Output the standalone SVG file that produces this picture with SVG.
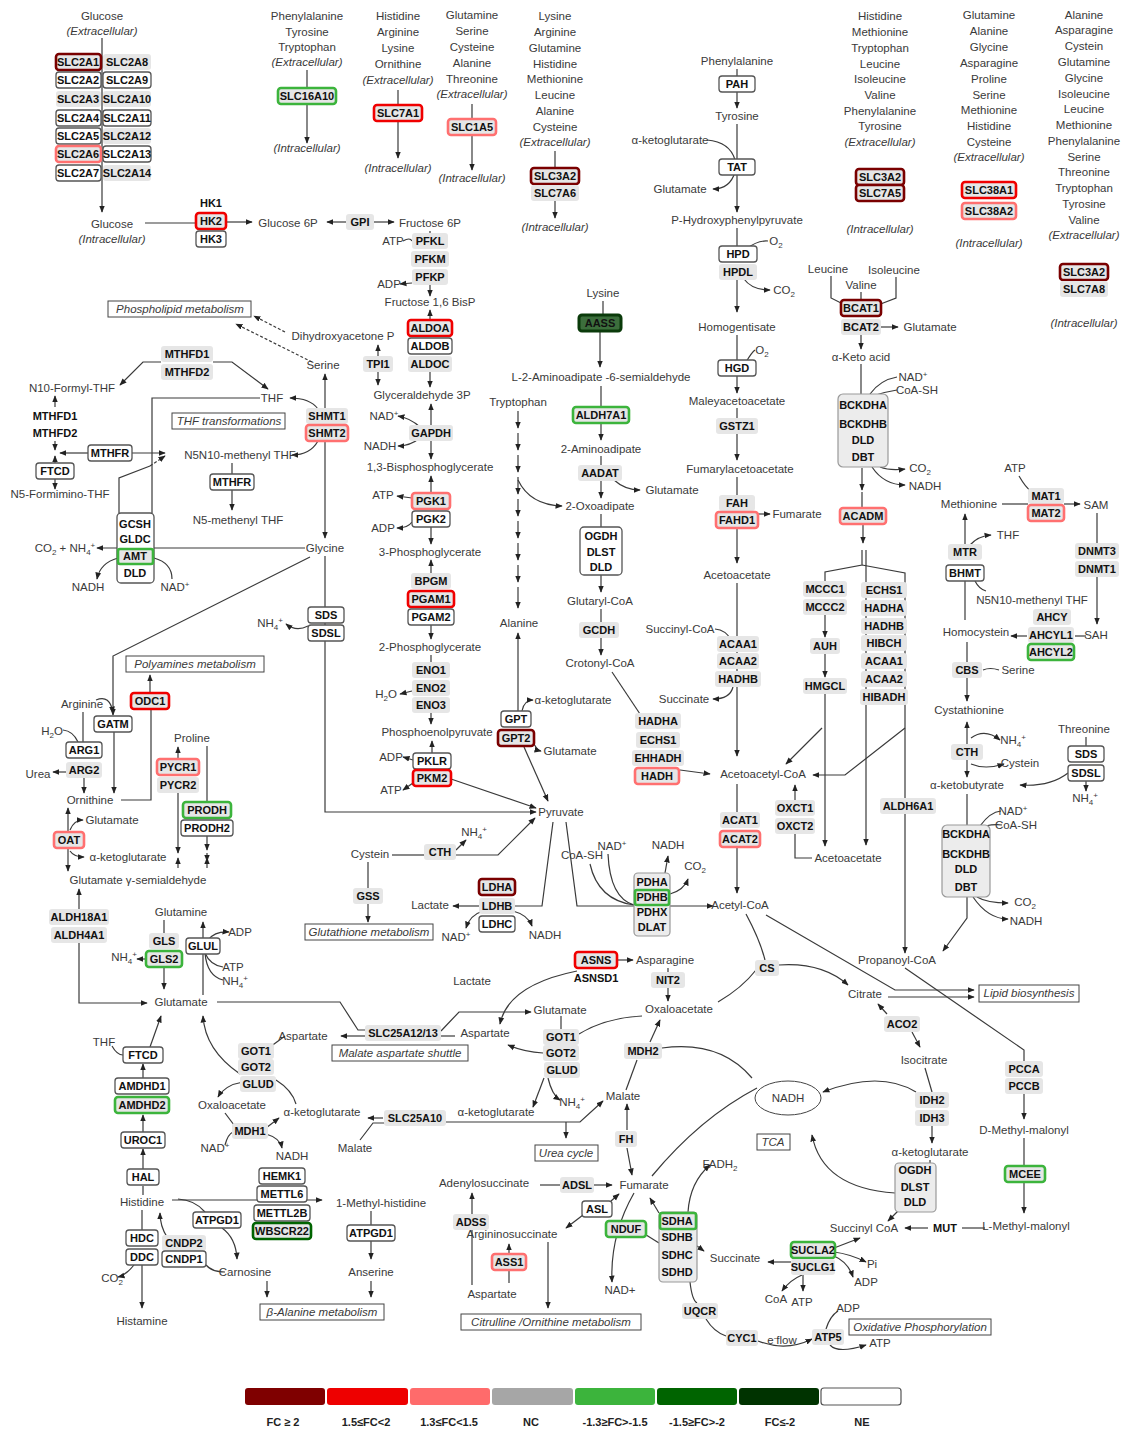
<svg xmlns="http://www.w3.org/2000/svg" width="1123" height="1430" viewBox="0 0 1123 1430">
<defs>
<marker id="ar" viewBox="0 0 10 10" refX="9" refY="5" markerWidth="6" markerHeight="6" orient="auto-start-reverse"><path d="M0,1 L10,5 L0,9z" fill="#222"/></marker>
<style>
.m{font-family:"Liberation Sans",Arial,sans-serif;font-size:11.5px;fill:#3a3a3a;text-anchor:middle}
.i{font-style:italic}
.g{font-family:"Liberation Sans",Arial,sans-serif;font-size:11px;font-weight:bold;fill:#111;text-anchor:middle}
.sb{font-size:8px}
.ne{fill:#fff;stroke:#555;stroke-width:1.3}
.nc{fill:#e6e6e6;stroke:none}
.a{fill:#e6e6e6;stroke:#7a0000;stroke-width:2.6}
.b{fill:#e6e6e6;stroke:#f00000;stroke-width:2.6}
.c{fill:#e6e6e6;stroke:#ff7070;stroke-width:2.6}
.d{fill:#e6e6e6;stroke:#3cb43c;stroke-width:2.6}
.e{fill:#e6e6e6;stroke:#006400;stroke-width:2.6}
.f{fill:#3c6e3c;stroke:#0a3a0a;stroke-width:3}
.cx{fill:#ececec;stroke:#999;stroke-width:1.2}
.bx{fill:#fff;stroke:#444;stroke-width:1}
.l{fill:none;stroke:#3a3a3a;stroke-width:1.2}
.k{marker-end:url(#ar)}
.kk{marker-start:url(#ar);marker-end:url(#ar)}
.ds{stroke-dasharray:3,2}
.lg{font-family:"Liberation Sans",Arial,sans-serif;font-size:11px;font-weight:bold;fill:#222;text-anchor:middle}
</style>
</defs>
<rect width="1123" height="1430" fill="#fff"/>

<g id="connectors">
<path class="l k" d="M102,38 V212"/>
<path class="l" d="M145,223 H196"/><path class="l k" d="M227,222 H252"/>
<path class="l k" d="M346,222 H327"/><path class="l k" d="M374,222 H394"/>
<path class="l k" d="M307,70 V143"/>
<path class="l k" d="M398,90 V158"/>
<path class="l k" d="M472,104 V170"/>
<path class="l k" d="M555,151 V218"/>
<path class="l" d="M737,69 V76"/><path class="l k" d="M737,92 V108"/>
<path class="l k" d="M737,124 V212"/>
<path class="l" d="M707,140 Q730,142 735,160"/><path class="l k" d="M735,172 Q730,189 713,189"/>
<path class="l" d="M737,228 V246"/><path class="l k" d="M737,280 V312"/>
<path class="l" d="M746,249 Q758,240 768,241"/><path class="l k" d="M744,279 Q752,290 770,290"/>
<path class="l" d="M737,335 V360"/><path class="l" d="M746,362 Q752,352 755,350"/>
<path class="l k" d="M737,376 V393"/>
<path class="l" d="M737,408 V418"/><path class="l k" d="M737,434 V460"/>
<path class="l" d="M737,477 V495"/><path class="l k" d="M758,514 H770"/>
<path class="l k" d="M737,528 V563"/>
<path class="l k" d="M737,583 V756"/>
<path class="l" d="M715,629 Q726,630 731,640"/><path class="l k" d="M733,687 Q730,699 713,699"/>
<path class="l" d="M737,784 V812"/><path class="l k" d="M737,848 V893"/>
<path class="l k" d="M680,770 L710,774"/>
<path class="l" d="M612,672 L640,714"/>
<path class="l" d="M603,301 V315"/><path class="l k" d="M600,331 V367"/>
<path class="l" d="M601,386 V407"/><path class="l k" d="M601,423 V440"/>
<path class="l" d="M601,456 V465"/><path class="l k" d="M601,481 V498"/>
<path class="l k" d="M614,480 Q625,490 640,490"/>
<path class="l" d="M601,514 V528"/><path class="l k" d="M601,575 V592"/>
<path class="l" d="M601,609 V622"/><path class="l k" d="M601,638 V655"/>
<path class="l k" d="M518,411 V428"/><path class="l k" d="M518,433 V450"/><path class="l k" d="M518,455 V472"/><path class="l k" d="M518,477 V494"/><path class="l k" d="M518,499 V516"/><path class="l k" d="M518,521 V538"/><path class="l k" d="M518,543 V560"/><path class="l k" d="M518,565 V582"/><path class="l k" d="M518,587 V608"/>
<path class="l k" d="M518,480 Q530,505 562,506"/>
<path class="l k" d="M518,711 V633"/>
<path class="l k" d="M522,711 Q524,700 533,700"/>
<path class="l k" d="M533,741 Q536,750 541,751"/>
<path class="l k" d="M524,747 L548,801"/>
<path class="l" d="M430,231 V234"/><path class="l k" d="M430,285 V296"/>
<path class="l" d="M403,241 Q410,237 412,241"/><path class="l k" d="M412,283 L400,284"/>
<path class="l k" d="M430,320 V310"/>
<path class="l k" d="M430,372 V387"/>
<path class="l k" d="M378,356 V345"/><path class="l k" d="M378,372 V385"/>
<path class="l k" d="M431,425 V404"/><path class="l k" d="M431,441 V459"/>
<path class="l k" d="M420,427 Q410,418 398,416"/><path class="l k" d="M420,438 Q410,446 398,446"/>
<path class="l k" d="M431,493 V476"/><path class="l k" d="M412,498 L397,496"/><path class="l k" d="M412,522 Q408,528 397,528"/><path class="l k" d="M431,527 V544"/>
<path class="l k" d="M431,573 V560"/><path class="l k" d="M431,625 V639"/>
<path class="l" d="M431,655 V662"/><path class="l k" d="M431,713 V724"/><path class="l k" d="M412,691 L400,694"/>
<path class="l k" d="M432,753 V741"/><path class="l k" d="M413,760 L403,757"/><path class="l k" d="M413,783 L403,790"/>
<path class="l k" d="M451,779 L536,808"/>
<path class="l kk" d="M325,538 V374"/>
<path class="l k" d="M325,556 V812 H536"/>
<path class="l" d="M392,855 H424"/><path class="l k" d="M456,855 H498 L535,818"/><path class="l k" d="M456,850 L466,840"/>
<path class="l" d="M368,862 V888"/><path class="l k" d="M368,904 V922"/>
<path class="l" d="M553,822 L542,906 H515"/>
<path class="l k" d="M479,906 H453"/><path class="l k" d="M483,911 Q470,915 466,928"/><path class="l k" d="M513,911 Q528,915 532,926"/>
<path class="l k" d="M566,822 L577,906 H713"/>
<path class="l" d="M590,864 Q598,900 634,905"/><path class="l" d="M608,854 Q610,898 634,905"/>
<path class="l k" d="M665,873 L668,856"/><path class="l k" d="M670,894 Q684,890 688,879"/>
<path class="l k ds" d="M285,332 L254,316"/><path class="l k ds" d="M312,362 L236,324"/>
<path class="l k" d="M161,362 H143 L120,385"/><path class="l k" d="M213,362 H232 L268,389"/>
<path class="l k" d="M55,407 V396"/>
<path class="l k" d="M55,441 V450"/><path class="l k" d="M55,463 V456"/><path class="l k" d="M55,479 V489"/>
<path class="l k" d="M88,453 H60"/><path class="l k" d="M132,453 H165"/>
<path class="l k" d="M318,409 Q310,398 290,398"/><path class="l k" d="M318,441 Q310,455 292,455"/>
<path class="l" d="M232,463 V474"/><path class="l k" d="M232,490 V510"/>
<path class="l" d="M152,513 V398 H260"/>
<path class="l" d="M119,513 V478 L150,466"/><path class="l k ds" d="M150,466 L165,456"/>
<path class="l k" d="M305,548 H97"/>
<path class="l k" d="M118,558 Q100,563 97,579"/><path class="l" d="M154,558 Q172,563 172,579"/>
<path class="l k" d="M308,626 Q296,632 286,624"/>
<path class="l k" d="M310,557 L113,656 V715"/>
<path class="l k" d="M96,700 Q110,694 113,713"/><path class="l" d="M83,712 V742"/>
<path class="l" d="M63,730 Q73,731 78,742"/>
<path class="l k" d="M66,772 H53"/><path class="l k" d="M84,778 V793"/><path class="l k" d="M114,732 V793"/>
<path class="l" d="M121,800 H151 V710"/><path class="l k" d="M150,693 V675"/>
<path class="l k" d="M68,832 V808"/><path class="l k" d="M68,848 V871"/>
<path class="l k" d="M70,830 Q74,820 83,820"/><path class="l k" d="M70,851 Q74,857 84,857"/>
<path class="l" d="M207,746 V802"/><path class="l k" d="M178,759 V747"/>
<path class="l k" d="M178,793 V853"/><path class="l k" d="M178,868 V858"/>
<path class="l k" d="M207,836 V850"/><path class="l k" d="M207,853 V861"/><path class="l k" d="M207,868 V858"/>
<path class="l k" d="M79,909 V889"/><path class="l k" d="M79,943 V1003 H147"/>
<path class="l" d="M164,920 V933"/><path class="l k" d="M150,959 H137"/><path class="l k" d="M164,967 V989"/>
<path class="l k" d="M203,995 V922"/><path class="l k" d="M208,940 Q215,931 229,932"/>
<path class="l" d="M205,953 Q210,965 223,967"/><path class="l" d="M205,953 Q207,976 223,980"/>
<path class="l" d="M217,1002 H340 L358,1030 H366"/>
<path class="l k" d="M366,1036 H341"/>
<path class="l k" d="M441,1031 L459,1012 H531"/><path class="l" d="M441,1036 H455"/>
<path class="l" d="M112,1046 Q117,1055 123,1055"/><path class="l k" d="M150,1047 L161,1016"/>
<path class="l k" d="M143,1078 V1064"/>
<path class="l k" d="M240,1074 Q205,1050 203,1016"/><path class="l" d="M270,1047 L285,1036"/>
<path class="l k" d="M243,1082 Q225,1085 218,1097"/><path class="l" d="M276,1080 Q292,1090 296,1104"/>
<path class="l" d="M225,1113 L234,1125"/><path class="l k" d="M266,1128 L279,1118"/>
<path class="l" d="M225,1145 Q228,1134 233,1132"/><path class="l k" d="M266,1134 Q280,1138 282,1148"/>
<path class="l k" d="M383,1118 H368"/><path class="l" d="M360,1140 L373,1123 H385"/>
<path class="l k" d="M446,1122 H580 L603,1101"/><path class="l k" d="M566,1122 V1138"/>
<path class="l k" d="M143,1132 V1115"/><path class="l k" d="M143,1169 V1149"/><path class="l" d="M143,1195 V1186"/>
<path class="l" d="M142,1210 V1230"/><path class="l k" d="M142,1265 V1308"/><path class="l k" d="M134,1265 Q126,1275 118,1277"/>
<path class="l k" d="M172,1200 H322"/><path class="l" d="M178,1199 Q195,1200 205,1212"/>
<path class="l k" d="M222,1228 Q236,1238 237,1259"/><path class="l" d="M206,1265 Q212,1272 225,1272"/>
<path class="l k" d="M167,1237 Q160,1226 160,1213"/>
<path class="l" d="M371,1211 V1225"/><path class="l k" d="M371,1241 V1259"/><path class="l k" d="M371,1281 V1297"/><path class="l k" d="M267,1281 V1297"/>
<path class="l k" d="M617,960 H633"/><path class="l" d="M668,968 V972"/><path class="l k" d="M668,988 V1001"/>
<path class="l k" d="M577,971 Q508,985 500,1024"/>
<path class="l" d="M561,1016 V1029"/><path class="l" d="M579,1034 Q605,1018 642,1016"/>
<path class="l k" d="M543,1053 Q525,1052 508,1045"/>
<path class="l k" d="M548,1078 Q552,1095 560,1100"/><path class="l k" d="M544,1078 L533,1107"/>
<path class="l" d="M626,1090 L637,1060"/><path class="l k" d="M650,1042 L660,1020"/>
<path class="l" d="M662,1048 Q720,1040 752,1078"/>
<path class="l" d="M718,1002 Q742,988 756,970"/><path class="l k" d="M779,965 Q822,962 848,985"/><path class="l" d="M746,914 Q760,940 765,960"/>
<path class="l k" d="M766,915 L895,990 H974"/><path class="l k" d="M888,997 H974"/>
<path class="l" d="M905,968 L1024,1050 V1062"/>
<path class="l k" d="M1024,1094 V1119"/><path class="l" d="M1024,1138 V1166"/><path class="l k" d="M1024,1182 V1213"/>
<path class="l" d="M985,1228 H962"/><path class="l k" d="M928,1228 H905"/>
<path class="l k" d="M887,1014 L878,1004"/><path class="l k" d="M912,1032 L920,1047"/>
<path class="l" d="M925,1068 L932,1092"/><path class="l k" d="M932,1126 V1143"/>
<path class="l k" d="M916,1092 Q880,1070 823,1092"/>
<path class="l k" d="M895,1193 Q822,1188 812,1135"/>
<path class="l" d="M930,1160 V1163"/><path class="l k" d="M898,1211 L888,1221"/>
<path class="l k" d="M834,1248 L860,1238"/><path class="l k" d="M834,1252 Q850,1254 866,1262"/><path class="l k" d="M834,1256 Q848,1262 853,1277"/>
<path class="l k" d="M791,1262 H768"/><path class="l k" d="M802,1275 Q790,1280 782,1291"/><path class="l k" d="M803,1275 V1291"/>
<path class="l k" d="M627,1130 V1104"/><path class="l k" d="M627,1148 L632,1175"/>
<path class="l" d="M652,1176 Q700,1118 757,1088"/>
<path class="l" d="M540,1185 H560"/><path class="l k" d="M594,1185 H612"/>
<path class="l k" d="M583,1215 L566,1228"/><path class="l k" d="M611,1201 L619,1194"/>
<path class="l k" d="M472,1285 V1193"/>
<path class="l" d="M509,1283 V1270"/><path class="l k" d="M509,1254 V1244"/>
<path class="l k" d="M548,1242 V1308"/>
<path class="l k" d="M634,1193 Q610,1235 612,1282"/><path class="l" d="M643,1233 L659,1243"/>
<path class="l k" d="M659,1213 L650,1198"/><path class="l k" d="M688,1212 Q690,1182 710,1165"/><path class="l k" d="M697,1246 L704,1251"/>
<path class="l" d="M690,1282 Q692,1300 697,1303"/><path class="l" d="M706,1319 Q714,1332 726,1336"/>
<path class="l k" d="M758,1341 Q786,1352 812,1339"/><path class="l" d="M826,1329 Q830,1316 838,1311"/><path class="l k" d="M830,1345 Q838,1354 866,1345"/>
<path class="l" d="M831,276 V298 L845,305"/><path class="l" d="M896,277 V298 L878,305"/><path class="l" d="M861,292 V300"/>
<path class="l k" d="M881,327 H898"/><path class="l k" d="M861,335 V349"/>
<path class="l" d="M861,364 V394"/><path class="l" d="M870,394 Q880,380 897,377"/><path class="l" d="M876,395 Q885,392 897,390"/>
<path class="l k" d="M880,467 Q890,471 905,469"/><path class="l k" d="M872,467 Q884,485 905,485"/>
<path class="l k" d="M862,468 V490"/><path class="l" d="M862,492 V508"/>
<path class="l k" d="M863,524 V543"/>
<path class="l" d="M862,550 V565 L825,572 V581"/>
<path class="l k" d="M862,565 L905,573 V953"/>
<path class="l k" d="M866,550 V845"/>
<path class="l k" d="M825,615 V637"/><path class="l k" d="M825,654 V677"/><path class="l k" d="M825,694 V846"/>
<path class="l k" d="M822,728 L786,764"/><path class="l k" d="M905,728 L845,775 H813"/>
<path class="l" d="M812,858 H795 V834"/><path class="l k" d="M795,800 V785"/>
<path class="l" d="M1002,504 H1028"/><path class="l k" d="M1064,504 H1080"/><path class="l" d="M1019,476 Q1026,488 1031,491"/>
<path class="l" d="M1097,513 V543"/><path class="l k" d="M1097,577 V624"/>
<path class="l" d="M1086,636 H1075"/><path class="l k" d="M1027,636 H1011"/>
<path class="l" d="M965,620 V581"/><path class="l k" d="M965,544 V514"/>
<path class="l k" d="M970,545 Q978,536 991,535"/><path class="l" d="M975,581 Q979,589 986,591"/>
<path class="l" d="M967,642 V662"/><path class="l k" d="M967,678 V701"/><path class="l" d="M999,670 Q990,667 983,670"/>
<path class="l k" d="M967,744 V722"/><path class="l k" d="M967,760 V777"/>
<path class="l k" d="M971,738 Q985,728 1000,740"/><path class="l k" d="M971,764 Q985,770 1004,764"/>
<path class="l" d="M1086,737 V746"/><path class="l k" d="M1086,781 V791"/><path class="l k" d="M1068,773 Q1050,787 1020,785"/>
<path class="l" d="M967,794 V825"/><path class="l" d="M980,826 Q990,812 1001,811"/><path class="l" d="M985,826 Q995,824 1002,825"/>
<path class="l k" d="M977,897 Q987,903 1008,903"/><path class="l k" d="M973,897 Q988,919 1008,919"/>
<path class="l k" d="M967,897 V918 L943,951"/>
</g>

<g id="n-slc2">
<rect class="a" x="56" y="54" width="45" height="16" rx="3"/><text class="g" x="78" y="66">SLC2A1</text>
<rect class="ne" x="56" y="72" width="45" height="16" rx="3"/><text class="g" x="78" y="84">SLC2A2</text>
<rect class="nc" x="56" y="91" width="45" height="16" rx="3"/><text class="g" x="78" y="103">SLC2A3</text>
<rect class="ne" x="56" y="110" width="45" height="16" rx="3"/><text class="g" x="78" y="122">SLC2A4</text>
<rect class="ne" x="56" y="128" width="45" height="16" rx="3"/><text class="g" x="78" y="140">SLC2A5</text>
<rect class="c" x="56" y="146" width="45" height="16" rx="3"/><text class="g" x="78" y="158">SLC2A6</text>
<rect class="ne" x="56" y="165" width="45" height="16" rx="3"/><text class="g" x="78" y="177">SLC2A7</text>
<rect class="nc" x="103" y="54" width="48" height="16" rx="3"/><text class="g" x="127" y="66">SLC2A8</text>
<rect class="ne" x="103" y="72" width="48" height="16" rx="3"/><text class="g" x="127" y="84">SLC2A9</text>
<rect class="nc" x="103" y="91" width="48" height="16" rx="3"/><text class="g" x="127" y="103">SLC2A10</text>
<rect class="ne" x="103" y="110" width="48" height="16" rx="3"/><text class="g" x="127" y="122">SLC2A11</text>
<rect class="nc" x="103" y="128" width="48" height="16" rx="3"/><text class="g" x="127" y="140">SLC2A12</text>
<rect class="ne" x="103" y="146" width="48" height="16" rx="3"/><text class="g" x="127" y="158">SLC2A13</text>
<rect class="nc" x="103" y="165" width="48" height="16" rx="3"/><text class="g" x="127" y="177">SLC2A14</text>
</g>
<g id="n-hk"><text class="g" x="211" y="207">HK1</text>
<rect class="b" x="196" y="213" width="30" height="16" rx="3"/><text class="g" x="211" y="225">HK2</text>
<rect class="ne" x="196" y="231" width="30" height="16" rx="3"/><text class="g" x="211" y="243">HK3</text></g>
<g id="n-gpi"><rect class="nc" x="346" y="214" width="28" height="16" rx="3"/><text class="g" x="360" y="226">GPI</text></g>
<g id="n-slc16a10"><rect class="d" x="278" y="88" width="58" height="16" rx="3"/><text class="g" x="307" y="100">SLC16A10</text></g>
<g id="n-slc7a1"><rect class="b" x="374" y="105" width="48" height="16" rx="3"/><text class="g" x="398" y="117">SLC7A1</text></g>
<g id="n-slc1a5"><rect class="c" x="448" y="119" width="48" height="16" rx="3"/><text class="g" x="472" y="131">SLC1A5</text></g>
<g id="n-slc3a2-7a6"><rect class="a" x="531" y="168" width="48" height="16" rx="3"/><text class="g" x="555" y="180">SLC3A2</text>
<rect class="nc" x="531" y="185" width="48" height="16" rx="3"/><text class="g" x="555" y="197">SLC7A6</text></g>
<g id="n-pah"><rect class="ne" x="719" y="76" width="36" height="16" rx="3"/><text class="g" x="737" y="88">PAH</text></g>
<g id="n-tat"><rect class="ne" x="719" y="159" width="36" height="16" rx="3"/><text class="g" x="737" y="171">TAT</text></g>
<g id="n-hpd"><rect class="ne" x="719" y="246" width="38" height="16" rx="3"/><text class="g" x="738" y="258">HPD</text>
<rect class="nc" x="719" y="264" width="38" height="16" rx="3"/><text class="g" x="738" y="276">HPDL</text></g>
<g id="n-hgd"><rect class="ne" x="718" y="360" width="38" height="16" rx="3"/><text class="g" x="737" y="372">HGD</text></g>
<g id="n-gstz1"><rect class="nc" x="716" y="418" width="42" height="16" rx="3"/><text class="g" x="737" y="430">GSTZ1</text></g>
<g id="n-fah"><rect class="nc" x="719" y="495" width="36" height="16" rx="3"/><text class="g" x="737" y="507">FAH</text>
<rect class="c" x="716" y="512" width="42" height="16" rx="3"/><text class="g" x="737" y="524">FAHD1</text></g>
<g id="n-slc3a2-7a5"><rect class="a" x="856" y="169" width="48" height="16" rx="3"/><text class="g" x="880" y="181">SLC3A2</text>
<rect class="a" x="856" y="185" width="48" height="16" rx="3"/><text class="g" x="880" y="197">SLC7A5</text></g>
<g id="n-slc38"><rect class="b" x="962" y="182" width="54" height="16" rx="3"/><text class="g" x="989" y="194">SLC38A1</text>
<rect class="c" x="962" y="203" width="54" height="16" rx="3"/><text class="g" x="989" y="215">SLC38A2</text></g>
<g id="n-slc3a2-7a8"><rect class="a" x="1060" y="264" width="48" height="16" rx="3"/><text class="g" x="1084" y="276">SLC3A2</text>
<rect class="nc" x="1060" y="281" width="48" height="16" rx="3"/><text class="g" x="1084" y="293">SLC7A8</text></g>
<g id="n-bcat"><rect class="a" x="841" y="300" width="40" height="16" rx="3"/><text class="g" x="861" y="312">BCAT1</text>
<rect class="nc" x="841" y="319" width="40" height="16" rx="3"/><text class="g" x="861" y="331">BCAT2</text></g>
<g id="n-pfk"><rect class="nc" x="412" y="233" width="36" height="16" rx="3"/><text class="g" x="430" y="245">PFKL</text>
<rect class="nc" x="411" y="251" width="38" height="16" rx="3"/><text class="g" x="430" y="263">PFKM</text>
<rect class="nc" x="412" y="269" width="36" height="16" rx="3"/><text class="g" x="430" y="281">PFKP</text></g>
<g id="n-aldo"><rect class="b" x="408" y="320" width="44" height="16" rx="3"/><text class="g" x="430" y="332">ALDOA</text>
<rect class="ne" x="408" y="338" width="44" height="16" rx="3"/><text class="g" x="430" y="350">ALDOB</text>
<rect class="nc" x="408" y="356" width="44" height="16" rx="3"/><text class="g" x="430" y="368">ALDOC</text></g>
<g id="n-tpi1"><rect class="nc" x="363" y="356" width="30" height="16" rx="3"/><text class="g" x="378" y="368">TPI1</text></g>
<g id="n-aass"><rect class="f" x="579" y="315" width="42" height="16" rx="3"/><text class="g" x="600" y="327">AASS</text></g>
<g id="n-mthfd-a"><rect class="nc" x="161" y="346" width="52" height="16" rx="3"/><text class="g" x="187" y="358">MTHFD1</text>
<rect class="nc" x="161" y="364" width="52" height="16" rx="3"/><text class="g" x="187" y="376">MTHFD2</text></g>
<g id="n-mthfd-b"><text class="g" x="55" y="420">MTHFD1</text><text class="g" x="55" y="437">MTHFD2</text></g>
<g id="n-ftcd1"><rect class="ne" x="36" y="463" width="38" height="16" rx="3"/><text class="g" x="55" y="475">FTCD</text></g>
<g id="n-mthfr1"><rect class="ne" x="88" y="445" width="44" height="16" rx="3"/><text class="g" x="110" y="457">MTHFR</text></g>
<g id="n-shmt"><rect class="nc" x="306" y="408" width="42" height="16" rx="3"/><text class="g" x="327" y="420">SHMT1</text>
<rect class="c" x="306" y="425" width="42" height="16" rx="3"/><text class="g" x="327" y="437">SHMT2</text></g>
<g id="n-mthfr2"><rect class="ne" x="210" y="474" width="44" height="16" rx="3"/><text class="g" x="232" y="486">MTHFR</text></g>
<g id="n-gcs"><rect class="ne" x="117" y="513" width="37" height="70" rx="4"/>
<text class="g" x="135" y="528">GCSH</text><text class="g" x="135" y="543">GLDC</text>
<rect class="d" x="118" y="549" width="35" height="15" rx="2"/><text class="g" x="135" y="560">AMT</text>
<text class="g" x="135" y="577">DLD</text></g>
<g id="n-sds1"><rect class="ne" x="308" y="607" width="36" height="16" rx="3"/><text class="g" x="326" y="619">SDS</text>
<rect class="ne" x="308" y="625" width="36" height="16" rx="3"/><text class="g" x="326" y="637">SDSL</text></g>
<g id="n-odc1"><rect class="b" x="131" y="693" width="38" height="16" rx="3"/><text class="g" x="150" y="705">ODC1</text></g>
<g id="n-gatm"><rect class="ne" x="94" y="716" width="38" height="16" rx="3"/><text class="g" x="113" y="728">GATM</text></g>
<g id="n-arg"><rect class="ne" x="66" y="742" width="36" height="16" rx="3"/><text class="g" x="84" y="754">ARG1</text>
<rect class="nc" x="66" y="762" width="36" height="16" rx="3"/><text class="g" x="84" y="774">ARG2</text></g>
<g id="n-pycr"><rect class="c" x="157" y="759" width="42" height="16" rx="3"/><text class="g" x="178" y="771">PYCR1</text>
<rect class="nc" x="157" y="777" width="42" height="16" rx="3"/><text class="g" x="178" y="789">PYCR2</text></g>
<g id="n-prodh"><rect class="d" x="183" y="802" width="48" height="16" rx="3"/><text class="g" x="207" y="814">PRODH</text>
<rect class="ne" x="181" y="820" width="52" height="16" rx="3"/><text class="g" x="207" y="832">PRODH2</text></g>
<g id="n-oat"><rect class="c" x="54" y="832" width="30" height="16" rx="3"/><text class="g" x="69" y="844">OAT</text></g>
<g id="n-aldh18"><rect class="nc" x="49" y="909" width="60" height="16" rx="3"/><text class="g" x="79" y="921">ALDH18A1</text>
<rect class="nc" x="51" y="927" width="56" height="16" rx="3"/><text class="g" x="79" y="939">ALDH4A1</text></g>
<g id="n-gls"><rect class="nc" x="149" y="933" width="30" height="16" rx="3"/><text class="g" x="164" y="945">GLS</text>
<rect class="d" x="146" y="951" width="36" height="16" rx="3"/><text class="g" x="164" y="963">GLS2</text></g>
<g id="n-glul"><rect class="ne" x="186" y="938" width="34" height="16" rx="3"/><text class="g" x="203" y="950">GLUL</text></g>
<g id="n-ftcd2"><rect class="ne" x="123" y="1047" width="40" height="16" rx="3"/><text class="g" x="143" y="1059">FTCD</text></g>
<g id="n-amdhd"><rect class="ne" x="115" y="1078" width="54" height="16" rx="3"/><text class="g" x="142" y="1090">AMDHD1</text>
<rect class="d" x="115" y="1097" width="54" height="16" rx="3"/><text class="g" x="142" y="1109">AMDHD2</text></g>
<g id="n-uroc1"><rect class="ne" x="121" y="1132" width="44" height="16" rx="3"/><text class="g" x="143" y="1144">UROC1</text></g>
<g id="n-hal"><rect class="ne" x="127" y="1169" width="32" height="16" rx="3"/><text class="g" x="143" y="1181">HAL</text></g>
<g id="n-hdc"><rect class="ne" x="126" y="1230" width="32" height="16" rx="3"/><text class="g" x="142" y="1242">HDC</text>
<rect class="ne" x="126" y="1249" width="32" height="16" rx="3"/><text class="g" x="142" y="1261">DDC</text></g>
<g id="n-atpgd1a"><rect class="ne" x="193" y="1212" width="48" height="16" rx="3"/><text class="g" x="217" y="1224">ATPGD1</text></g>
<g id="n-cndp"><rect class="nc" x="162" y="1235" width="44" height="16" rx="3"/><text class="g" x="184" y="1247">CNDP2</text>
<rect class="ne" x="162" y="1251" width="44" height="16" rx="3"/><text class="g" x="184" y="1263">CNDP1</text></g>
<g id="n-got-a"><rect class="nc" x="238" y="1043" width="36" height="16" rx="3"/><text class="g" x="256" y="1055">GOT1</text>
<rect class="nc" x="238" y="1059" width="36" height="16" rx="3"/><text class="g" x="256" y="1071">GOT2</text>
<rect class="nc" x="240" y="1076" width="36" height="16" rx="3"/><text class="g" x="258" y="1088">GLUD</text></g>
<g id="n-mdh1"><rect class="nc" x="232" y="1123" width="36" height="16" rx="3"/><text class="g" x="250" y="1135">MDH1</text></g>
<g id="n-mettl"><rect class="ne" x="259" y="1168" width="46" height="16" rx="3"/><text class="g" x="282" y="1180">HEMK1</text>
<rect class="ne" x="257" y="1186" width="50" height="16" rx="3"/><text class="g" x="282" y="1198">METTL6</text>
<rect class="ne" x="254" y="1205" width="56" height="16" rx="3"/><text class="g" x="282" y="1217">METTL2B</text>
<rect class="e" x="253" y="1223" width="58" height="16" rx="3"/><text class="g" x="282" y="1235">WBSCR22</text></g>
<g id="n-atpgd1b"><rect class="ne" x="347" y="1225" width="48" height="16" rx="3"/><text class="g" x="371" y="1237">ATPGD1</text></g>
<g id="n-slc25a12"><rect class="nc" x="365" y="1025" width="76" height="16" rx="3"/><text class="g" x="403" y="1037">SLC25A12/13</text></g>
<g id="n-slc25a10"><rect class="nc" x="384" y="1110" width="62" height="16" rx="3"/><text class="g" x="415" y="1122">SLC25A10</text></g>
<g id="n-gapdh"><rect class="nc" x="409" y="425" width="44" height="16" rx="3"/><text class="g" x="431" y="437">GAPDH</text></g>
<g id="n-pgk"><rect class="c" x="412" y="493" width="38" height="16" rx="3"/><text class="g" x="431" y="505">PGK1</text>
<rect class="ne" x="412" y="511" width="38" height="16" rx="3"/><text class="g" x="431" y="523">PGK2</text></g>
<g id="n-pgam"><rect class="nc" x="411" y="573" width="40" height="16" rx="3"/><text class="g" x="431" y="585">BPGM</text>
<rect class="b" x="408" y="591" width="46" height="16" rx="3"/><text class="g" x="431" y="603">PGAM1</text>
<rect class="ne" x="408" y="609" width="46" height="16" rx="3"/><text class="g" x="431" y="621">PGAM2</text></g>
<g id="n-eno"><rect class="nc" x="412" y="662" width="38" height="16" rx="3"/><text class="g" x="431" y="674">ENO1</text>
<rect class="nc" x="412" y="680" width="38" height="16" rx="3"/><text class="g" x="431" y="692">ENO2</text>
<rect class="nc" x="412" y="697" width="38" height="16" rx="3"/><text class="g" x="431" y="709">ENO3</text></g>
<g id="n-pk"><rect class="ne" x="413" y="753" width="38" height="16" rx="3"/><text class="g" x="432" y="765">PKLR</text>
<rect class="b" x="413" y="770" width="38" height="16" rx="3"/><text class="g" x="432" y="782">PKM2</text></g>
<g id="n-gpt"><rect class="ne" x="501" y="711" width="30" height="16" rx="3"/><text class="g" x="516" y="723">GPT</text>
<rect class="a" x="498" y="730" width="36" height="16" rx="3"/><text class="g" x="516" y="742">GPT2</text></g>
<g id="n-cth1"><rect class="nc" x="424" y="844" width="32" height="16" rx="3"/><text class="g" x="440" y="856">CTH</text></g>
<g id="n-gss"><rect class="nc" x="353" y="888" width="30" height="16" rx="3"/><text class="g" x="368" y="900">GSS</text></g>
<g id="n-ldh"><rect class="a" x="479" y="879" width="36" height="16" rx="3"/><text class="g" x="497" y="891">LDHA</text>
<rect class="nc" x="479" y="898" width="36" height="16" rx="3"/><text class="g" x="497" y="910">LDHB</text>
<rect class="ne" x="479" y="916" width="36" height="16" rx="3"/><text class="g" x="497" y="928">LDHC</text></g>
<g id="n-pdh"><rect class="cx" x="634" y="873" width="36" height="63" rx="4"/>
<text class="g" x="652" y="886">PDHA</text>
<rect class="d" x="635" y="890" width="34" height="15" rx="2"/><text class="g" x="652" y="901">PDHB</text>
<text class="g" x="652" y="916">PDHX</text><text class="g" x="652" y="931">DLAT</text></g>
<g id="n-asns"><rect class="b" x="575" y="952" width="42" height="16" rx="3"/><text class="g" x="596" y="964">ASNS</text>
<text class="g" x="596" y="982">ASNSD1</text></g>
<g id="n-nit2"><rect class="nc" x="651" y="972" width="34" height="16" rx="3"/><text class="g" x="668" y="984">NIT2</text></g>
<g id="n-got-b"><rect class="nc" x="543" y="1029" width="36" height="16" rx="3"/><text class="g" x="561" y="1041">GOT1</text>
<rect class="nc" x="543" y="1045" width="36" height="16" rx="3"/><text class="g" x="561" y="1057">GOT2</text>
<rect class="nc" x="544" y="1062" width="36" height="16" rx="3"/><text class="g" x="562" y="1074">GLUD</text></g>
<g id="n-mdh2"><rect class="nc" x="624" y="1043" width="38" height="16" rx="3"/><text class="g" x="643" y="1055">MDH2</text></g>
<g id="n-aldh7a1"><rect class="d" x="573" y="407" width="56" height="16" rx="3"/><text class="g" x="601" y="419">ALDH7A1</text></g>
<g id="n-aadat"><rect class="nc" x="578" y="465" width="44" height="16" rx="3"/><text class="g" x="600" y="477">AADAT</text></g>
<g id="n-ogdh1"><rect class="ne" x="580" y="527" width="42" height="48" rx="4"/>
<text class="g" x="601" y="540">OGDH</text><text class="g" x="601" y="556">DLST</text><text class="g" x="601" y="571">DLD</text></g>
<g id="n-gcdh"><rect class="nc" x="579" y="622" width="40" height="16" rx="3"/><text class="g" x="599" y="634">GCDH</text></g>
<g id="n-acaa-a"><rect class="nc" x="717" y="636" width="42" height="16" rx="3"/><text class="g" x="738" y="648">ACAA1</text>
<rect class="nc" x="717" y="653" width="42" height="16" rx="3"/><text class="g" x="738" y="665">ACAA2</text>
<rect class="nc" x="715" y="671" width="46" height="16" rx="3"/><text class="g" x="738" y="683">HADHB</text></g>
<g id="n-hadh"><rect class="nc" x="635" y="713" width="46" height="16" rx="3"/><text class="g" x="658" y="725">HADHA</text>
<rect class="nc" x="636" y="732" width="44" height="16" rx="3"/><text class="g" x="658" y="744">ECHS1</text>
<rect class="nc" x="632" y="750" width="52" height="16" rx="3"/><text class="g" x="658" y="762">EHHADH</text>
<rect class="c" x="635" y="768" width="44" height="16" rx="3"/><text class="g" x="657" y="780">HADH</text></g>
<g id="n-acat"><rect class="nc" x="720" y="812" width="40" height="16" rx="3"/><text class="g" x="740" y="824">ACAT1</text>
<rect class="c" x="720" y="831" width="40" height="16" rx="3"/><text class="g" x="740" y="843">ACAT2</text></g>
<g id="n-bckdh1"><rect class="cx" x="838" y="394" width="50" height="73" rx="5"/>
<text class="g" x="863" y="409">BCKDHA</text><text class="g" x="863" y="428">BCKDHB</text><text class="g" x="863" y="444">DLD</text><text class="g" x="863" y="461">DBT</text></g>
<g id="n-acadm"><rect class="c" x="840" y="508" width="46" height="16" rx="3"/><text class="g" x="863" y="520">ACADM</text></g>
<g id="n-mccc"><rect class="nc" x="803" y="581" width="44" height="16" rx="3"/><text class="g" x="825" y="593">MCCC1</text>
<rect class="nc" x="803" y="599" width="44" height="16" rx="3"/><text class="g" x="825" y="611">MCCC2</text></g>
<g id="n-auh"><rect class="nc" x="810" y="638" width="30" height="16" rx="3"/><text class="g" x="825" y="650">AUH</text></g>
<g id="n-hmgcl"><rect class="nc" x="803" y="678" width="44" height="16" rx="3"/><text class="g" x="825" y="690">HMGCL</text></g>
<g id="n-echs"><rect class="nc" x="861" y="582" width="46" height="16" rx="3"/><text class="g" x="884" y="594">ECHS1</text>
<rect class="nc" x="861" y="600" width="46" height="16" rx="3"/><text class="g" x="884" y="612">HADHA</text>
<rect class="nc" x="861" y="618" width="46" height="16" rx="3"/><text class="g" x="884" y="630">HADHB</text>
<rect class="nc" x="861" y="635" width="46" height="16" rx="3"/><text class="g" x="884" y="647">HIBCH</text>
<rect class="nc" x="861" y="653" width="46" height="16" rx="3"/><text class="g" x="884" y="665">ACAA1</text>
<rect class="nc" x="861" y="671" width="46" height="16" rx="3"/><text class="g" x="884" y="683">ACAA2</text>
<rect class="nc" x="860" y="689" width="48" height="16" rx="3"/><text class="g" x="884" y="701">HIBADH</text></g>
<g id="n-mat"><rect class="nc" x="1028" y="488" width="36" height="16" rx="3"/><text class="g" x="1046" y="500">MAT1</text>
<rect class="c" x="1028" y="505" width="36" height="16" rx="3"/><text class="g" x="1046" y="517">MAT2</text></g>
<g id="n-dnmt"><rect class="nc" x="1075" y="543" width="44" height="16" rx="3"/><text class="g" x="1097" y="555">DNMT3</text>
<rect class="nc" x="1075" y="561" width="44" height="16" rx="3"/><text class="g" x="1097" y="573">DNMT1</text></g>
<g id="n-mtr"><rect class="nc" x="948" y="544" width="34" height="16" rx="3"/><text class="g" x="965" y="556">MTR</text>
<rect class="ne" x="946" y="565" width="38" height="16" rx="3"/><text class="g" x="965" y="577">BHMT</text></g>
<g id="n-ahcy"><rect class="nc" x="1033" y="609" width="38" height="16" rx="3"/><text class="g" x="1052" y="621">AHCY</text>
<rect class="nc" x="1028" y="627" width="46" height="16" rx="3"/><text class="g" x="1051" y="639">AHCYL1</text>
<rect class="d" x="1028" y="644" width="46" height="16" rx="3"/><text class="g" x="1051" y="656">AHCYL2</text></g>
<g id="n-cbs"><rect class="nc" x="952" y="662" width="30" height="16" rx="3"/><text class="g" x="967" y="674">CBS</text></g>
<g id="n-cth2"><rect class="nc" x="951" y="744" width="32" height="16" rx="3"/><text class="g" x="967" y="756">CTH</text></g>
<g id="n-sds2"><rect class="ne" x="1068" y="746" width="36" height="16" rx="3"/><text class="g" x="1086" y="758">SDS</text>
<rect class="ne" x="1068" y="765" width="36" height="16" rx="3"/><text class="g" x="1086" y="777">SDSL</text></g>
<g id="n-bckdh2"><rect class="cx" x="942" y="825" width="48" height="72" rx="5"/>
<text class="g" x="966" y="838">BCKDHA</text><text class="g" x="966" y="858">BCKDHB</text><text class="g" x="966" y="873">DLD</text><text class="g" x="966" y="891">DBT</text></g>
<g id="n-aldh6a1"><rect class="nc" x="880" y="798" width="56" height="16" rx="3"/><text class="g" x="908" y="810">ALDH6A1</text></g>
<g id="n-oxct"><rect class="nc" x="775" y="800" width="40" height="16" rx="3"/><text class="g" x="795" y="812">OXCT1</text>
<rect class="nc" x="775" y="818" width="40" height="16" rx="3"/><text class="g" x="795" y="830">OXCT2</text></g>
<g id="n-cs"><rect class="nc" x="755" y="960" width="24" height="16" rx="3"/><text class="g" x="767" y="972">CS</text></g>
<g id="n-aco2"><rect class="nc" x="884" y="1016" width="36" height="16" rx="3"/><text class="g" x="902" y="1028">ACO2</text></g>
<g id="n-pcc"><rect class="nc" x="1005" y="1061" width="38" height="16" rx="3"/><text class="g" x="1024" y="1073">PCCA</text>
<rect class="nc" x="1005" y="1078" width="38" height="16" rx="3"/><text class="g" x="1024" y="1090">PCCB</text></g>
<g id="n-mcee"><rect class="d" x="1005" y="1166" width="40" height="16" rx="3"/><text class="g" x="1025" y="1178">MCEE</text></g>
<g id="n-mut"><text class="g" x="945" y="1232">MUT</text></g>
<g id="n-idh"><rect class="nc" x="915" y="1092" width="34" height="16" rx="3"/><text class="g" x="932" y="1104">IDH2</text>
<rect class="nc" x="915" y="1110" width="34" height="16" rx="3"/><text class="g" x="932" y="1122">IDH3</text></g>
<g id="n-ogdh2"><rect class="cx" x="895" y="1163" width="41" height="49" rx="4"/>
<text class="g" x="915" y="1174">OGDH</text><text class="g" x="915" y="1191">DLST</text><text class="g" x="915" y="1206">DLD</text></g>
<g id="n-sucl"><rect class="d" x="791" y="1242" width="44" height="16" rx="3"/><text class="g" x="813" y="1254">SUCLA2</text>
<rect class="nc" x="791" y="1259" width="44" height="16" rx="3"/><text class="g" x="813" y="1271">SUCLG1</text></g>
<g id="n-atp5"><rect class="nc" x="812" y="1329" width="32" height="16" rx="3"/><text class="g" x="828" y="1341">ATP5</text></g>
<g id="n-cyc1"><rect class="nc" x="726" y="1330" width="32" height="16" rx="3"/><text class="g" x="742" y="1342">CYC1</text></g>
<g id="n-uqcr"><rect class="nc" x="682" y="1303" width="36" height="16" rx="3"/><text class="g" x="700" y="1315">UQCR</text></g>
<g id="n-sdh"><rect class="cx" x="659" y="1212" width="38" height="70" rx="4"/>
<rect class="d" x="660" y="1213" width="36" height="16" rx="2"/><text class="g" x="677" y="1225">SDHA</text>
<text class="g" x="677" y="1241">SDHB</text><text class="g" x="677" y="1259">SDHC</text><text class="g" x="677" y="1276">SDHD</text></g>
<g id="n-nduf"><rect class="d" x="606" y="1221" width="40" height="16" rx="3"/><text class="g" x="626" y="1233">NDUF</text></g>
<g id="n-fh"><rect class="nc" x="615" y="1131" width="22" height="16" rx="3"/><text class="g" x="626" y="1143">FH</text></g>
<g id="n-adsl"><rect class="nc" x="560" y="1177" width="34" height="16" rx="3"/><text class="g" x="577" y="1189">ADSL</text></g>
<g id="n-asl"><rect class="ne" x="582" y="1201" width="30" height="16" rx="3"/><text class="g" x="597" y="1213">ASL</text></g>
<g id="n-adss"><rect class="nc" x="453" y="1214" width="36" height="16" rx="3"/><text class="g" x="471" y="1226">ADSS</text></g>
<g id="n-ass1"><rect class="c" x="492" y="1254" width="34" height="16" rx="3"/><text class="g" x="509" y="1266">ASS1</text></g>

<g id="labels">
<rect class="bx" x="108" y="301" width="143" height="16"/><text class="m i" x="180" y="313">Phospholipid metabolism</text>
<rect class="bx" x="172" y="413" width="113" height="16"/><text class="m i" x="229" y="425">THF transformations</text>
<rect class="bx" x="126" y="656" width="138" height="16"/><text class="m i" x="195" y="668">Polyamines metabolism</text>
<rect class="bx" x="305" y="924" width="128" height="16"/><text class="m i" x="369" y="936">Glutathione metabolism</text>
<rect class="bx" x="332" y="1045" width="136" height="16"/><text class="m i" x="400" y="1057">Malate aspartate shuttle</text>
<rect class="bx" x="535" y="1145" width="63" height="16"/><text class="m i" x="566" y="1157">Urea cycle</text>
<rect class="bx" x="757" y="1134" width="33" height="16"/><text class="m i" x="773" y="1146">TCA</text>
<rect class="bx" x="260" y="1304" width="124" height="16"/><text class="m i" x="322" y="1316">β-Alanine metabolism</text>
<rect class="bx" x="461" y="1314" width="180" height="16"/><text class="m i" x="551" y="1326">Citrulline /Ornithine metabolism</text>
<rect class="bx" x="979" y="985" width="100" height="17"/><text class="m i" x="1029" y="997">Lipid biosynthesis</text>
<rect class="bx" x="849" y="1319" width="142" height="16"/><text class="m i" x="920" y="1331">Oxidative Phosphorylation</text>
<ellipse cx="788" cy="1098" rx="33" ry="17" fill="#fff" stroke="#444" stroke-width="1"/><text class="m" x="788" y="1102">NADH</text>
</g>

<g id="metabolites">
<text class="m" x="102" y="20">Glucose</text><text class="m i" x="102" y="35">(Extracellular)</text>
<text class="m" x="112" y="228">Glucose</text><text class="m i" x="112" y="243">(Intracellular)</text>
<text class="m" x="288" y="227">Glucose 6P</text><text class="m" x="430" y="227">Fructose 6P</text>
<text class="m" x="307" y="20">Phenylalanine</text><text class="m" x="307" y="36">Tyrosine</text><text class="m" x="307" y="51">Tryptophan</text><text class="m i" x="307" y="66">(Extracellular)</text><text class="m i" x="307" y="152">(Intracellular)</text>
<text class="m" x="398" y="20">Histidine</text><text class="m" x="398" y="36">Arginine</text><text class="m" x="398" y="52">Lysine</text><text class="m" x="398" y="68">Ornithine</text><text class="m i" x="398" y="84">(Extracellular)</text><text class="m i" x="398" y="172">(Intracellular)</text>
<text class="m" x="472" y="19">Glutamine</text><text class="m" x="472" y="35">Serine</text><text class="m" x="472" y="51">Cysteine</text><text class="m" x="472" y="67">Alanine</text><text class="m" x="472" y="83">Threonine</text><text class="m i" x="472" y="98">(Extracellular)</text><text class="m i" x="472" y="182">(Intracellular)</text>
<text class="m" x="555" y="20">Lysine</text><text class="m" x="555" y="36">Arginine</text><text class="m" x="555" y="52">Glutamine</text><text class="m" x="555" y="68">Histidine</text><text class="m" x="555" y="83">Methionine</text><text class="m" x="555" y="99">Leucine</text><text class="m" x="555" y="115">Alanine</text><text class="m" x="555" y="131">Cysteine</text><text class="m i" x="555" y="146">(Extracellular)</text><text class="m i" x="555" y="231">(Intracellular)</text>
<text class="m" x="737" y="65">Phenylalanine</text><text class="m" x="737" y="120">Tyrosine</text>
<text class="m" x="670" y="144">α-ketoglutarate</text><text class="m" x="680" y="193">Glutamate</text>
<text class="m" x="737" y="224">P-Hydroxyphenylpyruvate</text>
<text class="m" x="776" y="245">O<tspan class="sb" dy="3">2</tspan></text>
<text class="m" x="784" y="294">CO<tspan class="sb" dy="3">2</tspan></text>
<text class="m" x="737" y="331">Homogentisate</text>
<text class="m" x="762" y="354">O<tspan class="sb" dy="3">2</tspan></text>
<text class="m" x="737" y="405">Maleyacetoacetate</text><text class="m" x="740" y="473">Fumarylacetoacetate</text>
<text class="m" x="797" y="518">Fumarate</text><text class="m" x="737" y="579">Acetoacetate</text>
<text class="m" x="880" y="20">Histidine</text><text class="m" x="880" y="36">Methionine</text><text class="m" x="880" y="52">Tryptophan</text><text class="m" x="880" y="68">Leucine</text><text class="m" x="880" y="83">Isoleucine</text><text class="m" x="880" y="99">Valine</text><text class="m" x="880" y="115">Phenylalanine</text><text class="m" x="880" y="130">Tyrosine</text><text class="m i" x="880" y="146">(Extracellular)</text><text class="m i" x="880" y="233">(Intracellular)</text>
<text class="m" x="989" y="19">Glutamine</text><text class="m" x="989" y="35">Alanine</text><text class="m" x="989" y="51">Glycine</text><text class="m" x="989" y="67">Asparagine</text><text class="m" x="989" y="83">Proline</text><text class="m" x="989" y="99">Serine</text><text class="m" x="989" y="114">Methionine</text><text class="m" x="989" y="130">Histidine</text><text class="m" x="989" y="146">Cysteine</text><text class="m i" x="989" y="161">(Extracellular)</text><text class="m i" x="989" y="247">(Intracellular)</text>
<text class="m" x="1084" y="19">Alanine</text><text class="m" x="1084" y="34">Asparagine</text><text class="m" x="1084" y="50">Cystein</text><text class="m" x="1084" y="66">Glutamine</text><text class="m" x="1084" y="82">Glycine</text><text class="m" x="1084" y="98">Isoleucine</text><text class="m" x="1084" y="113">Leucine</text><text class="m" x="1084" y="129">Methionine</text><text class="m" x="1084" y="145">Phenylalanine</text><text class="m" x="1084" y="161">Serine</text><text class="m" x="1084" y="176">Threonine</text><text class="m" x="1084" y="192">Tryptophan</text><text class="m" x="1084" y="208">Tyrosine</text><text class="m" x="1084" y="224">Valine</text><text class="m i" x="1084" y="239">(Extracellular)</text><text class="m i" x="1084" y="327">(Intracellular)</text>
<text class="m" x="828" y="273">Leucine</text><text class="m" x="894" y="274">Isoleucine</text><text class="m" x="861" y="289">Valine</text>
<text class="m" x="930" y="331">Glutamate</text><text class="m" x="861" y="361">α-Keto  acid</text>
<text class="m" x="393" y="245">ATP</text><text class="m" x="389" y="288">ADP</text>
<text class="m" x="430" y="306">Fructose 1,6 BisP</text><text class="m" x="343" y="340">Dihydroxyacetone P</text>
<text class="m" x="603" y="297">Lysine</text>
<text class="m" x="323" y="369">Serine</text><text class="m" x="72" y="392">N10-Formyl-THF</text><text class="m" x="272" y="402">THF</text>
<text class="m" x="240" y="459">N5N10-methenyl THF</text><text class="m" x="60" y="498">N5-Formimino-THF</text><text class="m" x="238" y="524">N5-methenyl THF</text>
<text class="m" x="65" y="552">CO<tspan class="sb" dy="3">2</tspan><tspan dy="-3"> + NH</tspan><tspan class="sb" dy="3">4</tspan><tspan class="sb" dy="-7">+</tspan></text>
<text class="m" x="325" y="552">Glycine</text>
<text class="m" x="88" y="591">NADH</text><text class="m" x="175" y="591">NAD<tspan class="sb" dy="-4">+</tspan></text>
<text class="m" x="270" y="627">NH<tspan class="sb" dy="3">4</tspan><tspan class="sb" dy="-7">+</tspan></text>
<text class="m" x="82" y="708">Arginine</text>
<text class="m" x="52" y="735">H<tspan class="sb" dy="3">2</tspan><tspan dy="-3">O</tspan></text>
<text class="m" x="38" y="778">Urea</text><text class="m" x="90" y="804">Ornithine</text><text class="m" x="192" y="742">Proline</text>
<text class="m" x="112" y="824">Glutamate</text><text class="m" x="128" y="861">α-ketoglutarate</text>
<text class="m" x="138" y="884">Glutamate γ-semialdehyde</text>
<text class="m" x="181" y="916">Glutamine</text>
<text class="m" x="124" y="961">NH<tspan class="sb" dy="3">4</tspan><tspan class="sb" dy="-7">+</tspan></text>
<text class="m" x="240" y="936">ADP</text><text class="m" x="233" y="971">ATP</text>
<text class="m" x="235" y="985">NH<tspan class="sb" dy="3">4</tspan><tspan class="sb" dy="-7">+</tspan></text>
<text class="m" x="181" y="1006">Glutamate</text><text class="m" x="104" y="1046">THF</text><text class="m" x="303" y="1040">Aspartate</text>
<text class="m" x="232" y="1109">Oxaloacetate</text><text class="m" x="322" y="1116">α-ketoglutarate</text>
<text class="m" x="215" y="1152">NAD<tspan class="sb" dy="-4">+</tspan></text><text class="m" x="292" y="1160">NADH</text><text class="m" x="355" y="1152">Malate</text>
<text class="m" x="142" y="1206">Histidine</text><text class="m" x="381" y="1207">1-Methyl-histidine</text>
<text class="m" x="112" y="1282">CO<tspan class="sb" dy="3">2</tspan></text>
<text class="m" x="245" y="1276">Carnosine</text><text class="m" x="371" y="1276">Anserine</text><text class="m" x="142" y="1325">Histamine</text>
<text class="m" x="422" y="399">Glyceraldehyde 3P</text>
<text class="m" x="384" y="420">NAD<tspan class="sb" dy="-4">+</tspan></text><text class="m" x="380" y="450">NADH</text>
<text class="m" x="430" y="471">1,3-Bisphosphoglycerate</text>
<text class="m" x="383" y="499">ATP</text><text class="m" x="383" y="532">ADP</text>
<text class="m" x="430" y="556">3-Phosphoglycerate</text><text class="m" x="430" y="651">2-Phosphoglycerate</text>
<text class="m" x="386" y="698">H<tspan class="sb" dy="3">2</tspan><tspan dy="-3">O</tspan></text>
<text class="m" x="437" y="736">Phosphoenolpyruvate</text>
<text class="m" x="391" y="761">ADP</text><text class="m" x="391" y="794">ATP</text>
<text class="m" x="561" y="816">Pyruvate</text><text class="m" x="370" y="858">Cystein</text>
<text class="m" x="474" y="836">NH<tspan class="sb" dy="3">4</tspan><tspan class="sb" dy="-7">+</tspan></text>
<text class="m" x="430" y="909">Lactate</text>
<text class="m" x="456" y="941">NAD<tspan class="sb" dy="-4">+</tspan></text><text class="m" x="545" y="939">NADH</text>
<text class="m" x="472" y="985">Lactate</text>
<text class="m" x="601" y="381">L-2-Aminoadipate -6-semialdehyde</text>
<text class="m" x="518" y="406">Tryptophan</text><text class="m" x="601" y="453">2-Aminoadipate</text>
<text class="m" x="672" y="494">Glutamate</text><text class="m" x="600" y="510">2-Oxoadipate</text>
<text class="m" x="600" y="605">Glutaryl-CoA</text><text class="m" x="600" y="667">Crotonyl-CoA</text>
<text class="m" x="519" y="627">Alanine</text><text class="m" x="573" y="704">α-ketoglutarate</text><text class="m" x="570" y="755">Glutamate</text>
<text class="m" x="680" y="633">Succinyl-CoA</text><text class="m" x="684" y="703">Succinate</text>
<text class="m" x="582" y="859">CoA-SH</text><text class="m" x="612" y="850">NAD<tspan class="sb" dy="-4">+</tspan></text>
<text class="m" x="668" y="849">NADH</text><text class="m" x="695" y="870">CO<tspan class="sb" dy="3">2</tspan></text>
<text class="m" x="740" y="909">Acetyl-CoA</text><text class="m" x="763" y="778">Acetoacetyl-CoA</text>
<text class="m" x="665" y="964">Asparagine</text><text class="m" x="679" y="1013">Oxaloacetate</text>
<text class="m" x="560" y="1014">Glutamate</text><text class="m" x="485" y="1037">Aspartate</text>
<text class="m" x="572" y="1106">NH<tspan class="sb" dy="3">4</tspan><tspan class="sb" dy="-7">+</tspan></text>
<text class="m" x="623" y="1100">Malate</text><text class="m" x="496" y="1116">α-ketoglutarate</text>
<text class="m" x="644" y="1189">Fumarate</text><text class="m" x="484" y="1187">Adenylosuccinate</text>
<text class="m" x="512" y="1238">Argininosuccinate</text><text class="m" x="492" y="1298">Aspartate</text>
<text class="m" x="620" y="1294">NAD+</text>
<text class="m" x="720" y="1168">FADH<tspan class="sb" dy="3">2</tspan></text>
<text class="m" x="735" y="1262">Succinate</text>
<text class="m" x="913" y="381">NAD<tspan class="sb" dy="-4">+</tspan></text><text class="m" x="917" y="394">CoA-SH</text>
<text class="m" x="920" y="472">CO<tspan class="sb" dy="3">2</tspan></text><text class="m" x="925" y="490">NADH</text>
<text class="m" x="969" y="508">Methionine</text><text class="m" x="1015" y="472">ATP</text><text class="m" x="1096" y="509">SAM</text>
<text class="m" x="1008" y="539">THF</text><text class="m" x="1032" y="604">N5N10-methenyl THF</text>
<text class="m" x="1096" y="639">SAH</text><text class="m" x="976" y="636">Homocystein</text>
<text class="m" x="1018" y="674">Serine</text><text class="m" x="969" y="714">Cystathionine</text>
<text class="m" x="1013" y="744">NH<tspan class="sb" dy="3">4</tspan><tspan class="sb" dy="-7">+</tspan></text>
<text class="m" x="1020" y="767">Cystein</text><text class="m" x="967" y="789">α-ketobutyrate</text>
<text class="m" x="1084" y="733">Threonine</text>
<text class="m" x="1085" y="802">NH<tspan class="sb" dy="3">4</tspan><tspan class="sb" dy="-7">+</tspan></text>
<text class="m" x="1013" y="815">NAD<tspan class="sb" dy="-4">+</tspan></text><text class="m" x="1016" y="829">CoA-SH</text>
<text class="m" x="1025" y="906">CO<tspan class="sb" dy="3">2</tspan></text><text class="m" x="1026" y="925">NADH</text>
<text class="m" x="848" y="862">Acetoacetate</text><text class="m" x="897" y="964">Propanoyl-CoA</text>
<text class="m" x="865" y="998">Citrate</text><text class="m" x="924" y="1064">Isocitrate</text>
<text class="m" x="1024" y="1134">D-Methyl-malonyl</text><text class="m" x="930" y="1156">α-ketoglutarate</text>
<text class="m" x="864" y="1232">Succinyl CoA</text><text class="m" x="1026" y="1230">L-Methyl-malonyl</text>
<text class="m" x="872" y="1268">Pi</text><text class="m" x="866" y="1286">ADP</text>
<text class="m" x="776" y="1303">CoA</text><text class="m" x="802" y="1306">ATP</text>
<text class="m" x="848" y="1312">ADP</text><text class="m" x="880" y="1347">ATP</text>
<text class="m" x="782" y="1344">e<tspan class="sb" dy="-4">-</tspan><tspan dy="4">flow</tspan></text>
</g>

<g id="legend">
<rect x="245" y="1388" width="80" height="17" rx="3" fill="#7f0000"/>
<rect x="327" y="1388" width="81" height="17" rx="3" fill="#ee0000"/>
<rect x="410" y="1388" width="80" height="17" rx="3" fill="#ff6b6b"/>
<rect x="492" y="1388" width="81" height="17" rx="3" fill="#a6a6a6"/>
<rect x="575" y="1388" width="80" height="17" rx="3" fill="#3cb43c"/>
<rect x="657" y="1388" width="80" height="17" rx="3" fill="#006400"/>
<rect x="739" y="1388" width="80" height="17" rx="3" fill="#003300"/>
<rect x="821" y="1388" width="80" height="17" rx="3" fill="#fff" stroke="#555" stroke-width="1.2"/>
<text class="lg" x="283" y="1426">FC ≥ 2</text>
<text class="lg" x="366" y="1426">1.5≤FC&lt;2</text>
<text class="lg" x="449" y="1426">1.3≤FC&lt;1.5</text>
<text class="lg" x="531" y="1426">NC</text>
<text class="lg" x="615" y="1426">-1.3≥FC&gt;-1.5</text>
<text class="lg" x="697" y="1426">-1.5≥FC&gt;-2</text>
<text class="lg" x="780" y="1426">FC≤-2</text>
<text class="lg" x="862" y="1426">NE</text>
</g>
</svg>
